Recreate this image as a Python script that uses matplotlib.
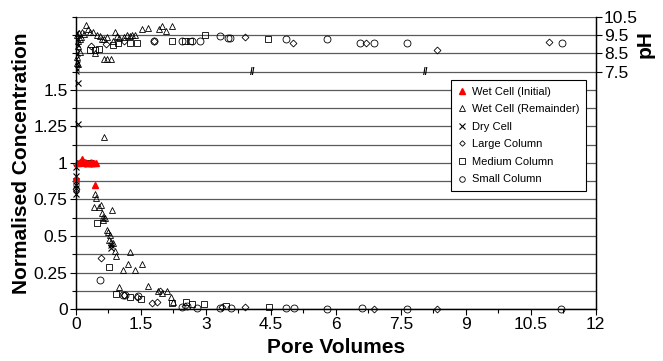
import numpy as np
import matplotlib.pyplot as plt
from matplotlib.ticker import MultipleLocator

plt.rcParams['font.family'] = ['Liberation Sans', 'DejaVu Sans']

# --- normalised concentration vs pore volumes ---
wet_init_pv = [0.0, 0.03, 0.07, 0.1, 0.14, 0.18, 0.22, 0.26, 0.3, 0.34, 0.38, 0.42, 0.46, 0.45]
wet_init_c = [0.9, 1.0, 1.0, 1.01, 1.03, 1.01, 1.0, 1.0, 1.0, 1.0, 1.0, 1.0, 1.0, 0.85]

wet_rem_pv = [0.45, 0.46, 0.42, 0.54, 0.57, 0.59, 0.63, 0.67, 0.84, 0.62, 0.71, 0.75, 0.79,
              0.77, 0.82, 0.86, 0.89, 0.92, 1.25, 1.21, 1.09, 1.36, 1.52, 1.0, 1.67, 1.9,
              1.98, 2.09, 2.2, 2.23, 0.65]
wet_rem_c = [0.79, 0.76, 0.70, 0.70, 0.71, 0.655, 0.63, 0.62, 0.68, 0.61, 0.54, 0.53, 0.51,
             0.47, 0.46, 0.45, 0.40, 0.36, 0.39, 0.31, 0.27, 0.27, 0.31, 0.15, 0.16, 0.12,
             0.11, 0.12, 0.085, 0.05, 1.18]

dry_pv = [0.04, 0.04, 0.0, 0.01, 0.0, 0.01, 0.0, 0.0, 0.1, 0.8, 0.82]
dry_c = [1.545, 1.27, 0.97, 0.91, 0.88, 0.85, 0.83, 0.79, 1.0, 0.44, 0.42]

large_pv = [0.0, 0.58, 1.12, 1.42, 1.75, 1.86, 1.94, 2.52, 3.38, 3.91, 6.87, 8.34]
large_c = [0.82, 0.35, 0.096, 0.084, 0.04, 0.046, 0.12, 0.02, 0.012, 0.016, 0.0, 0.0]

medium_pv = [0.48, 0.77, 0.92, 1.25, 1.49, 2.21, 2.54, 2.67, 2.96, 3.46, 4.45, 0.3]
medium_c = [0.59, 0.29, 0.10, 0.085, 0.066, 0.04, 0.05, 0.034, 0.034, 0.02, 0.016, 1.0]

small_pv = [0.55, 1.09, 1.13, 1.44, 2.44, 2.56, 2.79, 3.33, 3.57, 4.85, 5.03, 5.79, 6.6,
            7.64, 11.19, 0.2, 0.35]
small_c = [0.2, 0.096, 0.095, 0.09, 0.016, 0.02, 0.01, 0.01, 0.01, 0.005, 0.005, 0.0, 0.005,
           0.0, 0.0, 1.0, 1.0]

# --- pH vs pore volumes ---
wet_rem_ph_pv = [0.02, 0.04, 0.05, 0.07, 0.09, 0.1, 0.12, 0.15, 0.18, 0.23, 0.28, 0.33, 0.4,
                 0.44, 0.48, 0.55, 0.6, 0.65, 0.65, 0.72, 0.72, 0.81, 0.86, 0.9, 0.94, 1.0,
                 1.1, 1.17, 1.25, 1.3, 1.36, 1.52, 1.67, 1.92, 1.99, 2.08, 2.21, 0.03, 0.04, 0.02]
wet_rem_ph = [9.5, 9.2, 8.9, 9.6, 9.3, 8.6, 9.4, 9.7, 9.55, 10.08, 9.84, 9.7, 9.65,
              8.52, 9.53, 9.43, 9.3, 9.29, 8.2, 9.4, 8.2, 8.2, 9.2, 9.67, 9.43, 9.35,
              9.4, 9.53, 9.47, 9.5, 9.53, 9.84, 9.89, 9.84, 9.98, 9.71, 10.02, 8.3, 7.9, 8.0]

dry_ph_pv = [0.0, 0.01, 0.02, 0.0, 0.03, 0.01, 0.02, 0.0, 0.01]
dry_ph = [9.6, 9.3, 9.0, 8.8, 8.5, 8.2, 7.9, 7.7, 7.55]

large_ph_pv = [0.35, 0.7, 1.1, 1.8, 3.9, 5.02, 6.7, 8.33, 10.93]
large_ph = [8.9, 9.0, 9.2, 9.16, 9.4, 9.1, 9.1, 8.7, 9.13]

medium_ph_pv = [0.32, 0.44, 0.54, 0.86, 0.98, 1.25, 1.42, 2.21, 2.52, 2.63, 2.98, 4.44]
medium_ph = [8.7, 8.7, 8.74, 8.98, 9.07, 9.1, 9.1, 9.2, 9.2, 9.2, 9.53, 9.29]

small_ph_pv = [1.79, 2.44, 2.69, 2.86, 3.33, 3.52, 3.56, 4.84, 5.79, 6.56, 6.87, 7.64, 11.22]
small_ph = [9.16, 9.2, 9.2, 9.2, 9.43, 9.35, 9.35, 9.31, 9.29, 9.1, 9.1, 9.1, 9.07]

# axis break marks on the pH 7.5 line
break_x = [4.09, 8.08]

fig = plt.figure(figsize=(6.63, 3.61), dpi=100)
ax = fig.add_axes([0.1146, 0.144, 0.784, 0.809])
ax2 = ax.twinx()

ms = 5
open_kw = dict(linestyle='none', mfc='none', mec='black', mew=0.6, ms=ms, clip_on=False)

ax.plot(wet_init_pv, wet_init_c, '^', color='red', mec='red', ms=ms, linestyle='none',
        clip_on=False, label='Wet Cell (Initial)', zorder=4)
ax.plot(wet_rem_pv, wet_rem_c, '^', label='Wet Cell (Remainder)', **open_kw)
ax.plot(dry_pv, dry_c, 'x', color='black', mew=0.8, ms=ms, linestyle='none', clip_on=False,
        label='Dry Cell')
ax.plot(large_pv, large_c, 'D', label='Large Column', **dict(open_kw, ms=3.5))
ax.plot(medium_pv, medium_c, 's', label='Medium Column', **open_kw)
ax.plot(small_pv, small_c, 'o', label='Small Column', **open_kw)

ax2.plot(wet_rem_ph_pv, wet_rem_ph, '^', **open_kw)
ax2.plot(dry_ph_pv, dry_ph, 'x', color='black', mew=0.8, ms=ms, linestyle='none')
ax2.plot(large_ph_pv, large_ph, 'D', **dict(open_kw, ms=3.5))
ax2.plot(medium_ph_pv, medium_ph, 's', **open_kw)
ax2.plot(small_ph_pv, small_ph, 'o', **open_kw)
for bx in break_x:
    ax2.text(bx, 7.5, '//', ha='center', va='center', fontsize=7, fontweight='bold')

ax.set_xlim(0, 12)
ax.set_ylim(0, 2.0)
ax2.set_ylim(-5.5, 10.5)

ax.xaxis.set_minor_locator(MultipleLocator(0.75))
ax.set_xticks([0, 1.5, 3, 4.5, 6, 7.5, 9, 10.5, 12])
ax.set_xticklabels(['0', '1.5', '3', '4.5', '6', '7.5', '9', '10.5', '12'])
ax.set_yticks([0, 0.25, 0.5, 0.75, 1, 1.25, 1.5])
ax.set_yticklabels(['0', '0.25', '0.5', '0.75', '1', '1.25', '1.5'])
ax.yaxis.set_minor_locator(MultipleLocator(0.125))
ax.grid(True, which='both', axis='y', color='#5a5a5a', lw=0.9)
ax.set_axisbelow(True)

ax2.set_yticks([7.5, 8.5, 9.5, 10.5])
ax2.set_yticklabels(['7.5', '8.5', '9.5', '10.5'])

ax.tick_params(axis='both', which='major', labelsize=12.5, length=4, width=0.8, pad=2)
ax.tick_params(axis='both', which='minor', length=3, width=0.8)
ax2.tick_params(axis='y', labelsize=12.5, length=4, width=0.8, pad=2)

for a in (ax, ax2):
    a.spines['top'].set_visible(False)
    for s in ('left', 'right', 'bottom'):
        a.spines[s].set_color('black')
        a.spines[s].set_linewidth(0.9)

ax.set_xlabel('Pore Volumes', fontsize=15, fontweight='bold', labelpad=4)
ax.set_ylabel('Normalised Concentration', fontsize=15, fontweight='bold', labelpad=2)
ax2.text(1.095, 9.0, 'pH', transform=ax2.get_yaxis_transform(), rotation=90,
         ha='center', va='center', fontsize=15, fontweight='bold')

leg = ax.legend(loc='upper right', bbox_to_anchor=(0.981, 0.784), borderaxespad=0,
                fontsize=8, frameon=True, fancybox=False, edgecolor='black', framealpha=1,
                labelspacing=0.68, handlelength=0.8, handletextpad=0.5, borderpad=0.6,
                markerscale=0.8)
leg.get_frame().set_linewidth(0.8)
leg.set_zorder(10)

fig.savefig('out.png', dpi=100)
